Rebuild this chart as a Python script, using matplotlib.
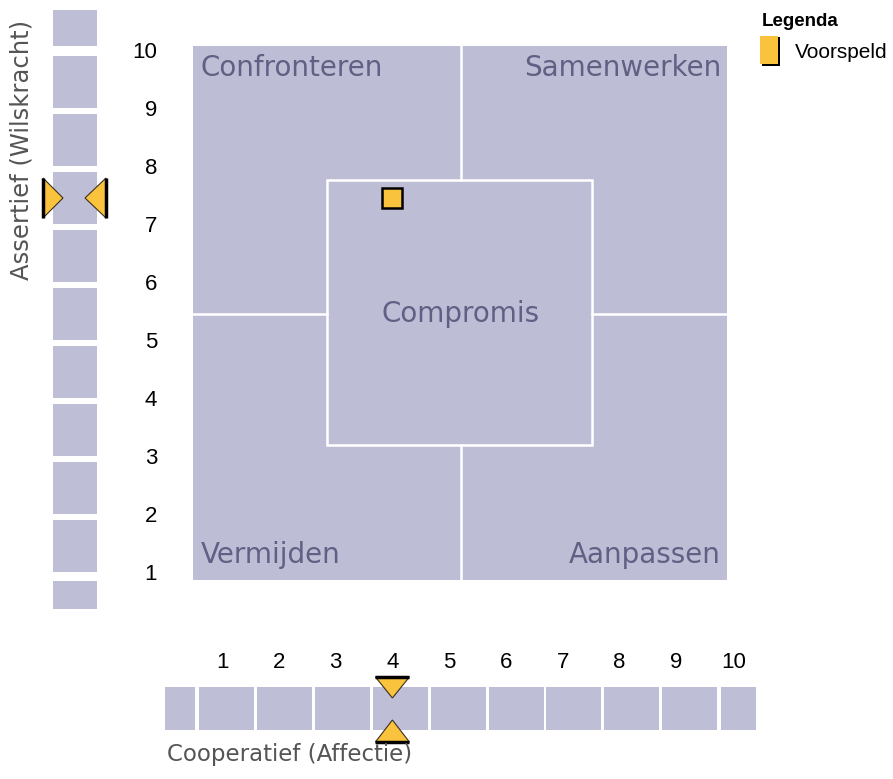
import numpy as np
import matplotlib
matplotlib.use("Agg")
import matplotlib.pyplot as plt
from matplotlib.patches import Rectangle, Polygon

# chart data
scale_values = list(range(1, 11))
x_ticklabels = [str(v) for v in scale_values]
y_ticklabels = [str(v) for v in scale_values]
quadrant_labels = ["Confronteren", "Samenwerken", "Vermijden", "Aanpassen"]
centre_label = "Compromis"
x_title = "Cooperatief (Affectie)"
y_title = "Assertief (Wilskracht)"
legend_title = "Legenda"
legend_label = "Voorspeld"
score_x = [4]
score_y = [7.5]

# colours
field_col = "#bdbdd5"
cell_col = "#bebed6"
text_col = "#615f84"
orange = "#f9c33d"

W, H = 893, 779
fig = plt.figure(figsize=(W / 100, H / 100), dpi=100)
ax = fig.add_axes([0, 0, 1, 1])
ax.axis("off")

# value scale: pixel spacing per unit
px_x, px_y = 56.8, 58.0
x0_px, y0_px = 222, 575      # pixel position of value 1
ax.set_xlim(1 - x0_px / px_x, 1 + (W - x0_px) / px_x)
ax.set_ylim(1 - (H - y0_px) / px_y, 1 + y0_px / px_y)


def X(px):
    return 1 + (px - x0_px) / px_x


def Y(py):
    return 1 + (y0_px - py) / px_y


def dx(p):
    return p / px_x


def dy(p):
    return p / px_y


# main field
ax.add_patch(Rectangle((X(193), Y(580)), dx(534), dy(534), fc=field_col, ec="none"))
lw = 1.8
cx, cy = X(461), Y(314)
ax.plot([cx, cx], [Y(46), Y(180)], color="white", lw=lw)
ax.plot([cx, cx], [Y(445), Y(580)], color="white", lw=lw)
ax.plot([X(193), X(327)], [cy, cy], color="white", lw=lw)
ax.plot([X(592), X(727)], [cy, cy], color="white", lw=lw)
ax.add_patch(Rectangle((X(327), Y(445)), dx(265), dy(265), fc="none", ec="white", lw=lw))

qfont = dict(color=text_col, fontsize=20, family="DejaVu Sans")
ax.text(X(200), Y(68), quadrant_labels[0], ha="left", va="center", **qfont)
ax.text(X(721), Y(68), quadrant_labels[1], ha="right", va="center", **qfont)
ax.text(X(201), Y(555), quadrant_labels[2], ha="left", va="center", **qfont)
ax.text(X(721), Y(555), quadrant_labels[3], ha="right", va="center", **qfont)
ax.text(cx, Y(314), centre_label, ha="center", va="center", **qfont)

# the score marker
ax.plot(score_x, score_y, marker="s", ms=14, mfc=orange, mec="black", mew=1.8, ls="none")

# left strip: cells between the values
lx0, lw_px = X(53), dx(44)
cell_h = 0.9
for v in scale_values[:-1]:
    ax.add_patch(Rectangle((lx0, v + 0.05), lw_px, cell_h, fc=cell_col, ec="none"))
ax.add_patch(Rectangle((lx0, 10.12), lw_px, Y(10) - 10.12, fc=cell_col, ec="none"))
ax.add_patch(Rectangle((lx0, Y(609)), lw_px, 0.9 - Y(609), fc=cell_col, ec="none"))
for v, lab in zip(scale_values, y_ticklabels):
    ax.text(X(157), v, lab, ha="right", va="center", fontsize=16, family="Liberation Sans")

# bottom strip: cells centred on the values, the last one cut off
by0, bh = Y(730), dy(43)
cell_w = 55 / px_x
pitch = 57.9 / px_x
for i, v in enumerate(scale_values[:-1]):
    c = 1 + (226.5 - x0_px) / px_x + i * pitch
    ax.add_patch(Rectangle((c - cell_w / 2, by0), cell_w, bh, fc=cell_col, ec="none"))
ax.add_patch(Rectangle((X(165), by0), dx(30), bh, fc=cell_col, ec="none"))
ax.add_patch(Rectangle((X(721), by0), dx(35), bh, fc=cell_col, ec="none"))
for v, lab in zip(scale_values, x_ticklabels):
    ax.text(v, Y(662), lab, ha="center", va="center", fontsize=16, family="Liberation Sans")


def tri(pts, base):
    ax.add_patch(Polygon(pts, closed=True, fc=orange, ec="#3a3020", lw=0.8))
    ax.plot([p[0] for p in base], [p[1] for p in base], color="black", lw=2.5,
            solid_capstyle="butt")


# y-score triangles
for yv in score_y:
    h = dy(20)
    tri([(X(43), yv + h), (X(43), yv - h), (X(63), yv)], [(X(43), yv + h), (X(43), yv - h)])
    tri([(X(106), yv + h), (X(106), yv - h), (X(85), yv)], [(X(106), yv + h), (X(106), yv - h)])

# x-score triangles
for xv in score_x:
    w = dx(17)
    tri([(xv - w, Y(677)), (xv + w, Y(677)), (xv, Y(698))], [(xv - w, Y(677)), (xv + w, Y(677))])
    tri([(xv - w, Y(742)), (xv + w, Y(742)), (xv, Y(720))], [(xv - w, Y(742)), (xv + w, Y(742))])

# axis titles
ax.text(X(167), Y(755), x_title, ha="left", va="center", fontsize=16.5, color="#555555",
        family="DejaVu Sans")
ax.text(X(22), Y(150), y_title, ha="center", va="center", rotation=90, fontsize=17.5,
        color="#555555", family="DejaVu Sans")

# legend
ax.text(X(762), Y(22), legend_title, ha="left", va="center", fontsize=13.5, fontweight="bold",
        family="Liberation Sans")
ax.add_patch(Rectangle((X(762), Y(66)), dx(18), dy(29), fc="black", ec="none"))
ax.add_patch(Rectangle((X(760), Y(64)), dx(18), dy(28), fc=orange, ec="none"))
ax.text(X(795), Y(52), legend_label, ha="left", va="center", fontsize=15,
        family="Liberation Sans")

fig.savefig("out.png", dpi=100)
